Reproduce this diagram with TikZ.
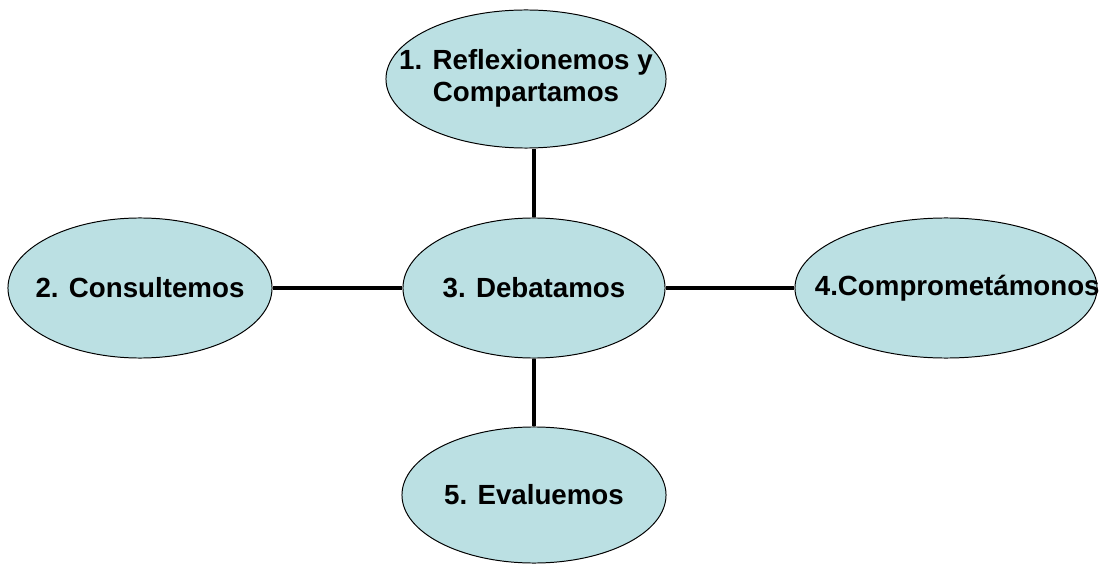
\documentclass[tikz,border=0pt]{standalone}
\usepackage{fontspec}
\setmainfont{Liberation Sans}
\usetikzlibrary{shapes.geometric}
\definecolor{stepfill}{RGB}{187,224,227}
\tikzset{
  phase/.style={ellipse, draw=black, line width=0.7pt, fill=stepfill, inner sep=0pt,
    font=\fontsize{19.7}{22}\selectfont\bfseries},
  link/.style={line width=2.3pt, draw=black}
}

\begin{document}
\begin{tikzpicture}[x=0.025cm, y=-0.025cm]
		%%%%% START %%%%%
		\useasboundingbox (0, 0) rectangle (1106, 564);
		
		\node[phase, minimum width=7cm, minimum height=3.45cm] (reflex) at (526, 79)
		  {\makebox[0pt]{\raisebox{-3pt}{\begin{tabular}{@{}c@{}}1. Reflexionemos y\\[1pt]Compartamos\end{tabular}}}};
		\node[phase, minimum width=6.6cm, minimum height=3.5cm] (consul) at (140, 288)
		  {\makebox[0pt]{2. Consultemos}};
		\node[phase, minimum width=6.55cm, minimum height=3.5cm] (debat) at (534, 288)
		  {\makebox[0pt]{3. Debatamos}};
		\node[phase, minimum width=7.55cm, minimum height=3.5cm] (compro) at (946, 288)
		  {\makebox[0pt][c]{\hspace{16pt}4.Comprometámonos}};
		\node[phase, minimum width=6.6cm, minimum height=3.4cm] (evalu) at (534, 495)
		  {\makebox[0pt]{5. Evaluemos}};
		
		\draw[link] (debat.north) -- (debat.north |- reflex.south);
		\draw[link] (debat.west) -- (consul.east);
		\draw[link] (debat.east) -- (compro.west);
		\draw[link] (debat.south) -- (evalu.north);
		
		%%%%% END %%%%%
	\end{tikzpicture}
\end{document}
